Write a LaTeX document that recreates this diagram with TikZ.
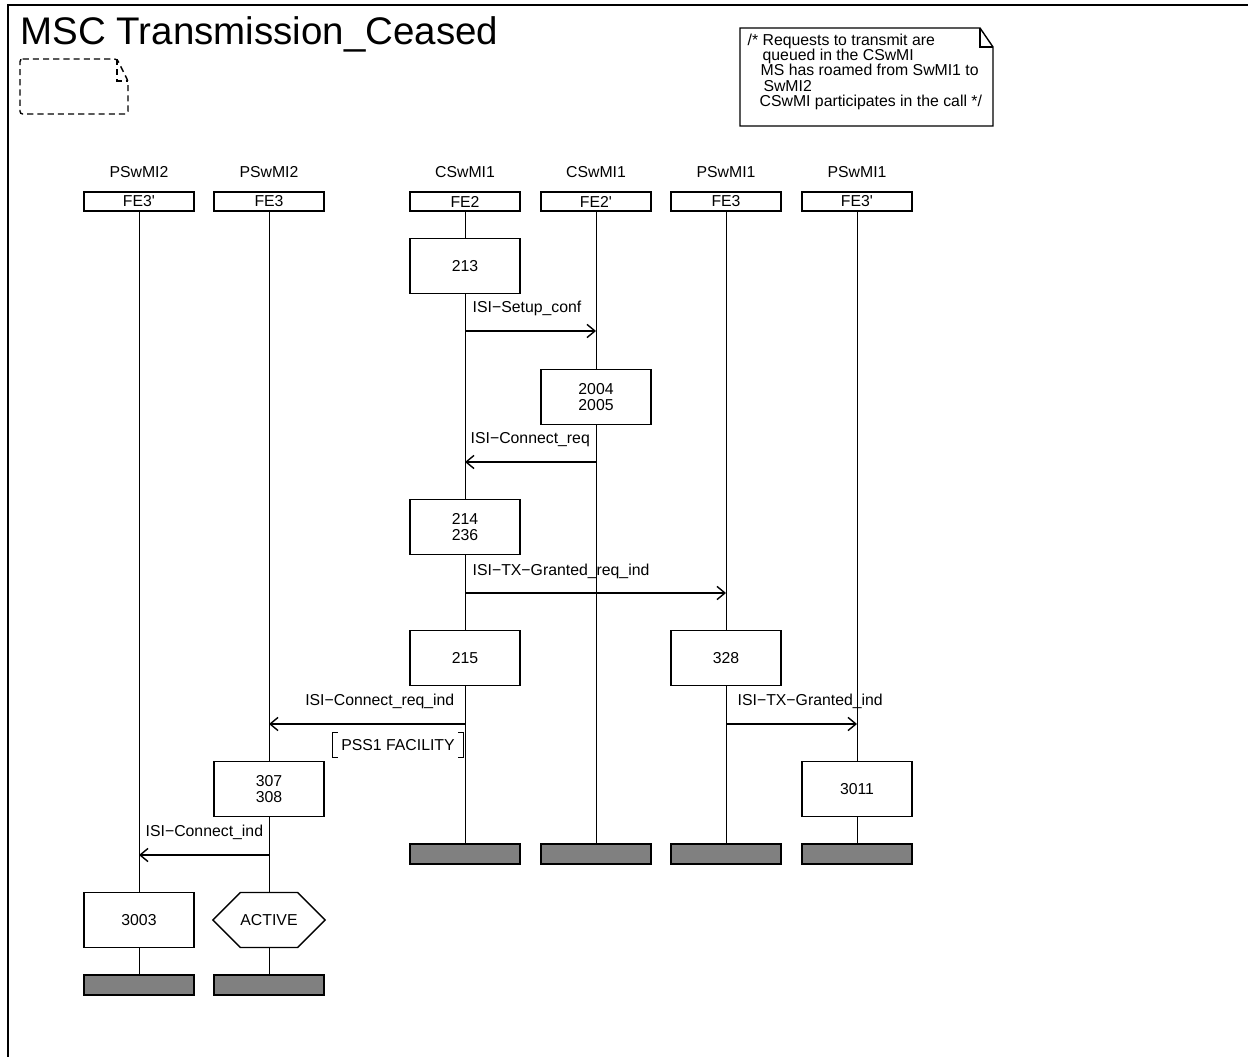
\documentclass[tikz,border=0pt]{standalone}
\usepackage{fontspec}
\setmainfont{Liberation Sans}
\usetikzlibrary{arrows.meta,positioning,shapes.symbols,backgrounds}

\begin{document}
\begin{tikzpicture}[
  x=0.02cm, y=-0.02cm,
  >={Straight Barb[length=4.5pt,width=7.5pt]},
  font=\fontsize{9}{9}\selectfont,
  line width=0.8pt,
  head/.style={draw, minimum width=2.2cm, minimum height=0.38cm, inner sep=0pt},
  act/.style={draw, fill=white, minimum width=2.2cm, minimum height=1.1cm, align=center, inner sep=0pt},
  endbar/.style={draw, fill=gray, minimum width=2.2cm, minimum height=0.4cm, inner sep=0pt},
  msg/.style={->},
  lbl/.style={inner sep=0pt}
]
\useasboundingbox (0,0) rectangle (1248,1057);

% frame and title
\draw (8,1057) -- (8,5) -- (1248,5);
\node[anchor=base west, inner sep=0pt, font=\fontsize{21.9}{24}\selectfont] (title) at (20,45) {MSC Transmission\_Ceased};
\draw[dash pattern=on 3.5pt off 2.3pt, rounded corners=1.5pt] (20,59) -- (117,59) -- (128,81) -- (128,114) -- (20,114) -- cycle;
\draw[dash pattern=on 3.5pt off 2.3pt] (117,59) -- (117,81) -- (128,81);

% comment
\draw (740,28) -- (980,28) -- (993,47) -- (993,126) -- (740,126) -- cycle;
\draw (980,28) -- (980,47) -- (993,47);
\node[anchor=north west, align=left, inner sep=0pt, font=\fontsize{9}{8.7}\selectfont] (note) at (747,33)
  {/* Requests to transmit are\\
   \hspace*{8.5pt}queued in the CSwMI\\
   \hspace*{7.4pt}MS has roamed from SwMI1 to\\
   \hspace*{9pt}SwMI2\\
   \hspace*{6.8pt}CSwMI participates in the call */};

% instances
\node[head] (fea) at (139,201.5) {FE3\textquotesingle};
\node[head] (feb) at (269,201.5) {FE3};
\node[head] (fec) at (465,201.5) {FE2};
\node[head] (fed) at (596,201.5) {FE2\textquotesingle};
\node[head] (fee) at (726,201.5) {FE3};
\node[head] (fef) at (857,201.5) {FE3\textquotesingle};

\node (ta) at (139,172) {PSwMI2};
\node (tb) at (269,172) {PSwMI2};
\node (tc) at (465,172) {CSwMI1};
\node (td) at (596,172) {CSwMI1};
\node (te) at (726,172) {PSwMI1};
\node (tf) at (857,172) {PSwMI1};

% actions
\node[act] (a213) at (465,266) {213};
\node[act] (a2004) at (596,397) {2004\\2005};
\node[act] (a214) at (465,527) {214\\236};
\node[act] (a215) at (465,658) {215};
\node[act] (a328) at (726,658) {328};
\node[act] (a307) at (269,789) {307\\308};
\node[act] (a3011) at (857,789) {3011};
\node[act] (a3003) at (139,920) {3003};
\node[act, shape=signal, signal to=west and east, signal pointer angle=90] (active) at (269,920) {ACTIVE};

% instance ends
\node[endbar] (ea) at (139,985) {};
\node[endbar] (eb) at (269,985) {};
\node[endbar] (ec) at (465,854) {};
\node[endbar] (ed) at (596,854) {};
\node[endbar] (ee) at (726,854) {};
\node[endbar] (ef) at (857,854) {};

\begin{scope}[on background layer]
\draw (fea) -- (ea);
\draw (feb) -- (eb);
\draw (fec) -- (ec);
\draw (fed) -- (ed);
\draw (fee) -- (ee);
\draw (fef) -- (ef);
\end{scope}

% messages
\draw[msg] (fec |- 0,331) -- (fed |- 0,331);
\node[lbl, anchor=west] (l1) at (472,308) {ISI−Setup\_conf};
\draw[msg] (fed |- 0,462) -- (fec |- 0,462);
\node[lbl, anchor=west] (l2) at (470,440) {ISI−Connect\_req};
\draw[msg] (fec |- 0,593) -- (fee |- 0,593);
\node[lbl, anchor=west] (l3) at (472,571) {ISI−TX−Granted\_req\_ind};
\draw[msg] (fec |- 0,724) -- (feb |- 0,724);
\node[lbl, anchor=east] (l4) at (455,701) {ISI−Connect\_req\_ind};
\draw[msg] (fee |- 0,724) -- (fef |- 0,724);
\node[lbl, anchor=west] (l5) at (737,701) {ISI−TX−Granted\_ind};
\draw[msg] (feb |- 0,855) -- (fea |- 0,855);
\node[lbl, anchor=west] (l6) at (145,832) {ISI−Connect\_ind};

% parameter
\node[lbl, inner xsep=4.5pt, minimum height=0.48cm] (pss) at (398,745) {PSS1 FACILITY};
\draw ([xshift=3pt]pss.north west) -- (pss.north west) -- (pss.south west) -- ([xshift=3pt]pss.south west);
\draw ([xshift=-3pt]pss.north east) -- (pss.north east) -- (pss.south east) -- ([xshift=-3pt]pss.south east);
\end{tikzpicture}
\end{document}
